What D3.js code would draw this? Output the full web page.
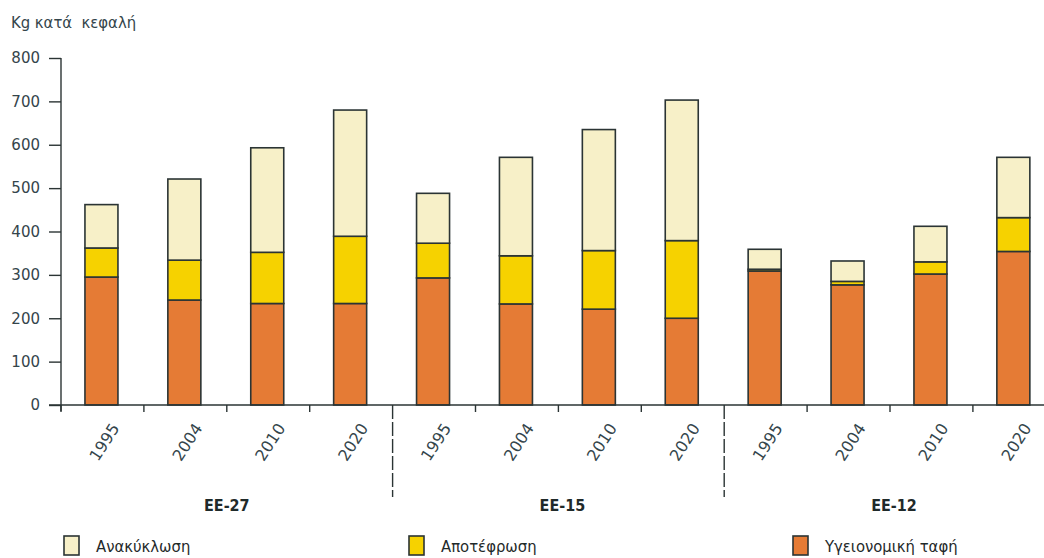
<!DOCTYPE html>
<html>
<head>
<meta charset="utf-8">
<script src="https://cdn.jsdelivr.net/npm/d3@7"></script>
<style>
  html, body { margin: 0; padding: 0; background: #ffffff; }
  svg { display: block; }
</style>
</head>
<body>
<svg id="chart" width="1044" height="558"></svg>
<script>
// Municipal waste per capita (kg), by treatment, for three country groups
const groups = ["ΕΕ-27", "ΕΕ-15", "ΕΕ-12"];
const years = ["1995", "2004", "2010", "2020"];
const yTicks = [0, 100, 200, 300, 400, 500, 600, 700, 800];

// Stack order, bottom to top
const seriesNames = ["Υγειονομική ταφή", "Αποτέφρωση", "Ανακύκλωση"];
const landfill     = [295, 242, 234, 234,  293, 233, 221, 200,  309, 277, 302, 354];
const incineration = [ 67,  92, 118, 155,   80, 111, 135, 179,    4,   8,  28,  78];
const recycling    = [100, 187, 241, 291,  115, 227, 279, 324,   46,  47,  82, 139];

const legendOrder = ["Ανακύκλωση", "Αποτέφρωση", "Υγειονομική ταφή"];

const colors = {
  "Ανακύκλωση": "#f7f0c8",
  "Αποτέφρωση": "#f6d200",
  "Υγειονομική ταφή": "#e57b35"
};

const ink = "#34454b";
const edge = "#2b3434";

// Build rows: one per group/year
const rows = [];
groups.forEach((g, gi) => {
  years.forEach((yr, yi) => {
    const i = gi * years.length + yi;
    rows.push({
      key: i, group: g, year: yr,
      "Υγειονομική ταφή": landfill[i],
      "Αποτέφρωση": incineration[i],
      "Ανακύκλωση": recycling[i]
    });
  });
});

const svg = d3.select("#chart");
const x0 = 61, step = 82.9;
const x = d3.scaleBand()
  .domain(rows.map(d => d.key))
  .range([x0, x0 + step * rows.length])
  .padding(0);
const y = d3.scaleLinear().domain([0, 800]).range([405, 58]);
const barW = 33;

const stack = d3.stack().keys(seriesNames);
const stacked = stack(rows);

// Bars
svg.append("g")
  .selectAll("g")
  .data(stacked)
  .join("g")
    .attr("fill", s => colors[s.key])
  .selectAll("rect")
  .data(s => s)
  .join("rect")
    .attr("x", d => x(d.data.key) + x.bandwidth() / 2 - barW / 2 - 1)
    .attr("y", d => y(d[1]))
    .attr("width", barW)
    .attr("height", d => y(d[0]) - y(d[1]))
    .attr("stroke", edge)
    .attr("stroke-width", 1.6);

// Y axis
const yAxis = svg.append("g")
  .attr("transform", `translate(${x0},0)`)
  .call(d3.axisLeft(y).tickValues(yTicks).tickSize(12).tickPadding(9));
yAxis.select(".domain").attr("stroke", edge).attr("stroke-width", 1.4)
  .attr("d", `M0,${y(800)}V${y(0) + 6}`);
yAxis.selectAll(".tick line").attr("stroke", edge).attr("stroke-width", 1.4);
yAxis.selectAll(".tick text")
  .attr("fill", ink)
  .style("font-family", "'DejaVu Sans', Verdana, sans-serif")
  .style("font-size", "15px");

// X axis
const xAxis = svg.append("g")
  .attr("transform", `translate(0,${y(0)})`)
  .call(d3.axisBottom(x).tickSize(0).tickFormat(() => ""));
xAxis.select(".domain").attr("stroke", edge).attr("stroke-width", 1.4)
  .attr("d", `M${x0 - 12},0H1044`);

// Ticks on the band boundaries
const bounds = rows.map(d => x(d.key)).concat([x(rows[rows.length - 1].key) + x.bandwidth()]);
svg.append("g")
  .selectAll("line")
  .data(bounds.filter((b, i) => i % years.length !== 0 || i === 0))
  .join("line")
    .attr("x1", d => d).attr("x2", d => d)
    .attr("y1", y(0)).attr("y2", y(0) + 7)
    .attr("stroke", edge).attr("stroke-width", 1.4);

// Dashed separators between groups
svg.append("g")
  .selectAll("line")
  .data(groups.slice(1).map((g, i) => x((i + 1) * years.length)))
  .join("line")
    .attr("x1", d => d).attr("x2", d => d)
    .attr("y1", y(0)).attr("y2", 497)
    .attr("stroke", edge).attr("stroke-width", 1.4)
    .attr("stroke-dasharray", "14,3");

// Year labels, rotated
svg.append("g")
  .selectAll("text")
  .data(rows)
  .join("text")
    .attr("transform", d => `translate(${x(d.key) + x.bandwidth() / 2 + 13},${y(0) + 20}) rotate(-57)`)
    .attr("text-anchor", "end")
    .attr("dy", "0.35em")
    .attr("fill", ink)
    .style("font-family", "'DejaVu Sans', Verdana, sans-serif")
    .style("font-size", "16px")
    .text(d => d.year);

// Group labels
svg.append("g")
  .selectAll("text")
  .data(groups)
  .join("text")
    .attr("x", (g, i) => {
      const a = x(i * years.length);
      const b = x(i * years.length + years.length - 1) + x.bandwidth();
      return (a + b) / 2 + (i === 0 ? 0 : 4);
    })
    .attr("y", 511)
    .attr("text-anchor", "middle")
    .attr("fill", "#1f2a2a")
    .style("font-family", "'DejaVu Sans Condensed', 'DejaVu Sans', sans-serif")
    .style("font-weight", "bold")
    .style("font-size", "16px")
    .text(d => d);

// Y title
svg.append("text")
  .attr("x", 11).attr("y", 28)
  .attr("fill", ink)
  .style("font-family", "'DejaVu Sans Condensed', 'DejaVu Sans', sans-serif")
  .style("font-size", "16.5px")
  .style("white-space", "pre")
  .attr("xml:space", "preserve")
  .text("Kg κατά  κεφαλή");

// Legend
const legendX = [64, 409, 793];
const legend = svg.append("g")
  .selectAll("g")
  .data(legendOrder)
  .join("g")
    .attr("transform", (d, i) => `translate(${legendX[i]},536)`);
legend.append("rect")
  .attr("width", 15).attr("height", 19)
  .attr("fill", d => colors[d])
  .attr("stroke", edge).attr("stroke-width", 1.6);
legend.append("text")
  .attr("x", 32).attr("y", 16)
  .attr("fill", "#1f2a2a")
  .style("font-family", "'DejaVu Sans Condensed', 'DejaVu Sans', sans-serif")
  .style("font-size", "16.5px")
  .text(d => d);
</script>
</body>
</html>
